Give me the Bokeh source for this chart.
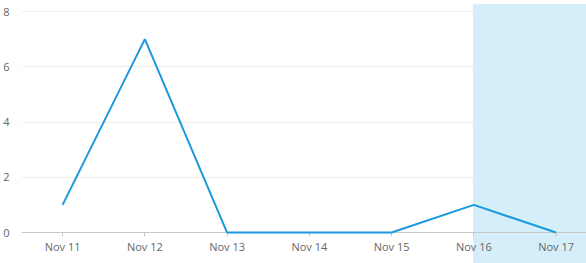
from bokeh.plotting import figure
from bokeh.models import BoxAnnotation, FixedTicker, Range1d
from bokeh.embed import file_html
from bokeh.resources import INLINE

dates = ["Nov 11", "Nov 12", "Nov 13", "Nov 14", "Nov 15", "Nov 16", "Nov 17"]
counts = [1, 7, 0, 0, 0, 1, 0]
highlight_from = "Nov 16"
y_ticks = [0, 2, 4, 6, 8]

xs = list(range(len(dates)))

p = figure(width=586, height=263, output_backend="svg", toolbar_location=None,
           min_border_left=0, min_border_right=0, min_border_top=3, min_border_bottom=0)
p.x_range = Range1d(-0.5, len(dates) - 1 + 0.37)
p.y_range = Range1d(-1.12, 8.29)

band = BoxAnnotation(left=dates.index(highlight_from) - 0.01, fill_color="#d5effa", fill_alpha=1.0,
                     line_color=None, level="underlay")
p.add_layout(band)

r = p.line(xs, counts, line_color="#1b98de", line_width=2)
r.level = "overlay"

p.outline_line_color = None
p.xgrid.grid_line_color = None
p.ygrid.grid_line_color = "#eeeeee"
p.ygrid.ticker = FixedTicker(ticks=y_ticks)

p.xaxis.ticker = FixedTicker(ticks=xs)
p.xaxis.major_label_overrides = {i: d for i, d in enumerate(dates)}
p.xaxis.fixed_location = 0
p.xaxis.axis_line_color = "#c8c8c8"
p.xaxis.major_tick_line_color = "#c8c8c8"
p.xaxis.major_tick_in = 0
p.xaxis.major_tick_out = 4
p.xaxis.minor_tick_line_color = None
p.xaxis.major_label_text_color = "#666666"
p.xaxis.major_label_text_font = "Segoe UI, Open Sans"
p.xaxis.major_label_text_font_size = "11px"
p.xaxis.major_label_standoff = 2

p.yaxis.ticker = FixedTicker(ticks=y_ticks)
p.yaxis.axis_line_color = None
p.yaxis.major_tick_line_color = None
p.yaxis.minor_tick_line_color = None
p.yaxis.major_label_text_color = "#666666"
p.yaxis.major_label_text_font = "Open Sans"
p.yaxis.major_label_text_font_size = "11px"
p.yaxis.major_label_standoff = 6

open("out.html", "w").write(file_html(p, INLINE))
